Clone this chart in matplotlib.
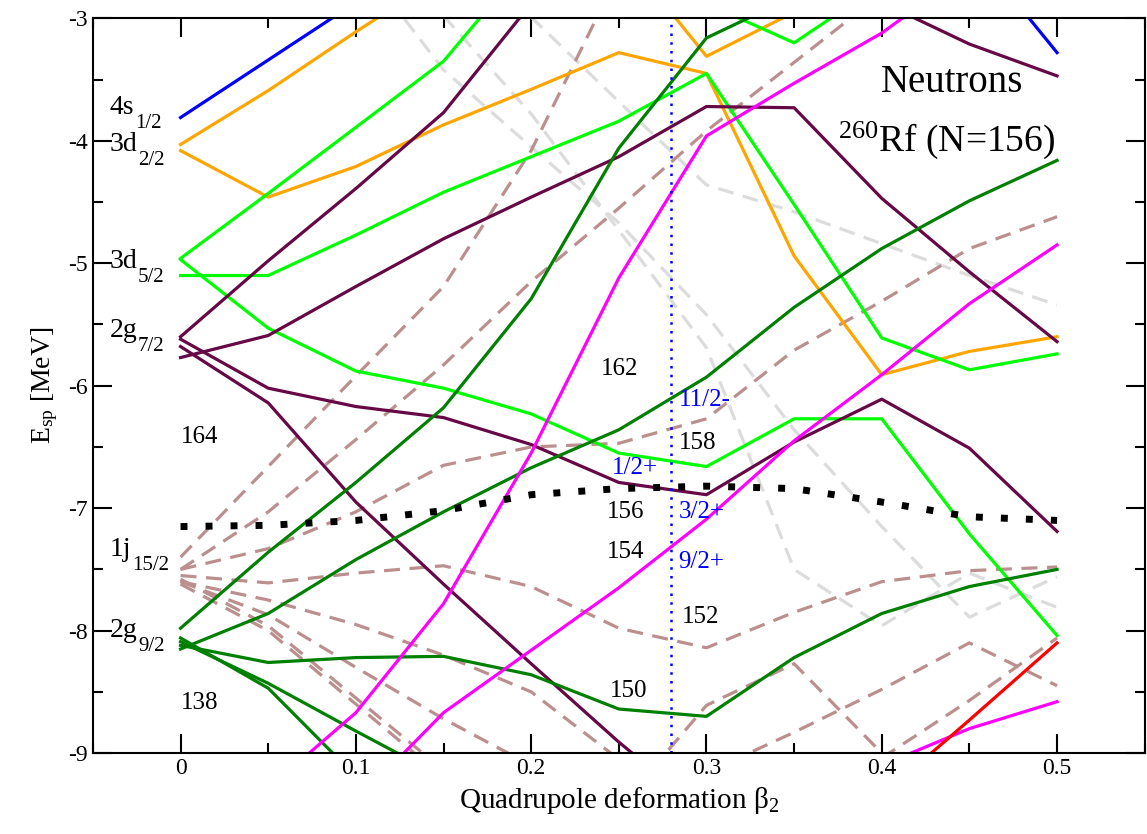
import numpy as np
import matplotlib
matplotlib.use('Agg')
import matplotlib.pyplot as plt
from matplotlib.ticker import MultipleLocator

nan = np.nan
beta = [0.0, 0.05, 0.1, 0.15, 0.2, 0.25, 0.3, 0.35, 0.4, 0.45, 0.5]

# single-particle energies (MeV) at each beta
blue_levels = [
    [-3.81, -3.34, -2.87, nan, nan, nan, nan, nan, nan, nan, nan],
    [nan, nan, nan, nan, nan, nan, nan, nan, nan, -2.40, -3.28],
]
orange_levels = [
    [-4.03, -3.59, -3.11, -2.65, nan, nan, nan, nan, nan, nan, nan],
    [-4.08, -4.46, -4.21, -3.87, -3.58, -3.28, -3.45, -4.94, -5.91, -5.72, -5.60],
    [nan, nan, nan, nan, nan, -2.42, -3.31, -2.95, nan, nan, nan],
]
lime_levels = [
    [-4.96, -4.43, -3.89, -3.35, -2.50, nan, nan, nan, nan, nan, nan],
    [-5.10, -5.10, -4.77, -4.42, -4.13, -3.84, -3.45, -4.52, -5.61, -5.87, -5.74],
    [-4.97, -5.53, -5.88, -6.02, -6.23, -6.55, -6.66, -6.27, -6.27, -7.21, -8.04],
    [nan, nan, nan, nan, nan, nan, -2.88, -3.20, -2.72, nan, nan],
]
purple_levels = [
    [-5.60, -4.98, -4.39, -3.77, -2.88, nan, nan, nan, nan, nan, nan],
    [-5.77, -5.59, -5.19, -4.80, -4.46, -4.13, -3.72, -3.73, -4.47, -5.07, -5.64],
    [-5.62, -6.02, -6.17, -6.26, -6.48, -6.79, -6.89, -6.46, -6.11, -6.51, -7.19],
    [-5.68, -6.14, -6.95, -7.62, -8.27, -8.91, -9.50, nan, nan, nan, nan],
    [nan, nan, nan, nan, nan, nan, nan, -2.55, -2.87, -3.21, -3.47],
]
green_levels = [
    [-7.98, -7.36, -6.79, -6.18, -5.29, -4.06, -3.16, -2.82, nan, nan, nan],
    [-8.15, -7.86, -7.42, -7.03, -6.67, -6.36, -5.93, -5.36, -4.88, -4.49, -4.16],
    [-8.12, -8.26, -8.22, -8.21, -8.36, -8.64, -8.70, -8.22, -7.86, -7.64, -7.50],
    [-8.06, -8.47, -9.19, nan, nan, nan, nan, nan, nan, nan, nan],
    [-8.09, -8.43, -8.82, -9.20, nan, nan, nan, nan, nan, nan, nan],
]
magenta_levels = [
    [nan, -9.29, -8.67, -7.78, -6.55, -5.12, -3.96, -3.53, -3.12, -2.60, nan],
    [nan, nan, -9.40, -8.67, -8.16, -7.65, -7.09, -6.45, -5.91, -5.33, -4.85],
    [nan, nan, nan, nan, nan, nan, nan, nan, -9.10, -8.80, -8.58],
]
red_levels = [
    [nan, nan, nan, nan, nan, nan, nan, nan, -9.35, -8.73, -8.10],
]
rosy_levels = [
    [-7.40, -6.66, -5.92, -5.19, -4.08, -2.63, nan, nan, nan, nan, nan],
    [-7.50, -7.03, -6.44, -5.83, -5.15, -4.55, -3.92, -3.36, -2.80, nan, nan],
    [-7.50, -7.33, -7.03, -6.65, -6.50, -6.47, -6.27, -5.71, -5.31, -4.88, -4.62],
    [-7.55, -7.61, -7.53, -7.47, -7.64, -7.98, -8.14, -7.85, -7.60, -7.51, -7.48],
    [-7.60, -7.75, -7.95, -8.20, -8.50, -9.05, nan, nan, nan, nan, nan],
    [-7.60, -7.87, -8.30, -8.72, -9.10, nan, nan, nan, nan, nan, nan],
    [-7.58, -7.96, -8.55, -9.14, nan, nan, nan, nan, nan, nan, nan],
    [-7.62, -8.00, -8.60, -9.20, nan, nan, nan, nan, nan, nan, nan],
    [nan, nan, nan, nan, nan, -9.45, -8.61, -8.27, -9.00, -9.70, nan],
    [nan, nan, nan, nan, nan, nan, -9.16, -8.83, -8.48, -8.10, -8.45],
    [nan, nan, nan, nan, nan, nan, nan, nan, -9.04, -8.57, -8.06],
]
grey_levels = [
    [nan, nan, nan, -2.30, -2.99, -3.68, -4.36, -4.58, -4.84, -5.10, -5.34],
    [nan, nan, -2.49, -3.42, -4.05, -4.67, -5.42, -6.36, -7.15, -7.89, -7.56],
    [nan, nan, nan, -2.98, -3.78, -4.73, -5.69, -7.50, -7.96, -7.53, -7.81],
]
fermi = [-7.15, -7.14, -7.10, -7.02, -6.89, -6.84, -6.82, -6.84, -6.95, -7.07, -7.10]
beta_gs = 0.28

shell_labels = [('4s', '1/2', -3.78), ('3d', '2/2', -4.08), ('3d', '5/2', -5.04),
                ('2g', '7/2', -5.60), ('1j', '15/2', -7.39), ('2g', '9/2', -8.05)]
gap_labels = [('164', 0.0, -6.42), ('138', 0.0, -8.59), ('162', 0.24, -5.86),
              ('158', 0.284, -6.47), ('156', 0.243, -7.03), ('154', 0.243, -7.36),
              ('152', 0.286, -7.89), ('150', 0.245, -8.49)]
spin_labels = [('11/2-', 0.284, -6.12), ('1/2+', 0.246, -6.67),
               ('3/2+', 0.284, -7.03), ('9/2+', 0.284, -7.44)]

plt.rcParams['font.family'] = ['Liberation Serif', 'DejaVu Serif']
plt.rcParams['mathtext.fontset'] = 'custom'
plt.rcParams['mathtext.rm'] = 'Liberation Serif'
plt.rcParams['mathtext.it'] = 'Liberation Serif:italic'
plt.rcParams['axes.unicode_minus'] = False

fig = plt.figure(figsize=(11.47, 8.34), dpi=100)
ax = fig.add_axes([0.081, 0.097, 0.917, 0.881])

lw = 2.3
dash = (0, (5, 3))
for y in grey_levels:
    ax.plot(beta, y, color='#dcdcdc', lw=lw, ls=dash)
for y in rosy_levels:
    ax.plot(beta, y, color='#bc8f8f', lw=lw, ls=dash)
for levels, col in [(blue_levels, '#0000ff'), (orange_levels, '#ffa500'),
                    (lime_levels, '#00ff00'), (purple_levels, '#660845'),
                    (green_levels, '#008000'), (magenta_levels, '#ff00ff'),
                    (red_levels, '#ff0000')]:
    for y in levels:
        ax.plot(beta, y, color=col, lw=lw)

ax.plot(beta, fermi, color='black', lw=5, ls=(0, (1, 2.6)), dash_capstyle='butt')
ax.axvline(beta_gs, color='#0000ff', lw=1.8, ls=(0, (1, 2.5)))

# orbital labels with a lowered subscript
for main, sub, y in shell_labels:
    t = ax.text(-0.0405, y, main, fontsize=20, va='baseline', ha='left')
    ax.annotate(sub, xy=(1, 0), xycoords=t, xytext=(0.5, -6), textcoords='offset points',
                fontsize=15, va='baseline', ha='left')
for txt, x, y in gap_labels:
    ax.text(x, y, txt, fontsize=18, va='center', ha='left')
for txt, x, y in spin_labels:
    ax.text(x, y, txt, fontsize=18, va='center', ha='left', color='#0000ff')
ax.text(0.44, -3.52, 'Neutrons', fontsize=28, ha='center', va='center')
ax.text(0.437, -4.0, '$^{260}$Rf (N=156)', fontsize=27, ha='center', va='center')

ax.set_xlim(-0.05, 0.55)
ax.set_ylim(-9, -3)
ax.set_xticks([0, 0.1, 0.2, 0.3, 0.4, 0.5])
ax.set_xticklabels(['0', '0.1', '0.2', '0.3', '0.4', '0.5'])
ax.xaxis.set_minor_locator(MultipleLocator(0.05))
ax.yaxis.set_minor_locator(MultipleLocator(0.5))
ax.tick_params(which='both', direction='in', top=True, right=True, labelsize=17, width=1.5)
ax.tick_params(which='major', length=14)
ax.tick_params(which='minor', length=7)
for s in ax.spines.values():
    s.set_linewidth(1.5)

ax.set_xlabel('Quadrupole deformation β$_2$', fontsize=21, labelpad=4)
ax.set_ylabel('E$_{\\mathrm{sp}}$ [MeV]', fontsize=20, labelpad=6)

fig.savefig('out.png', dpi=100)
